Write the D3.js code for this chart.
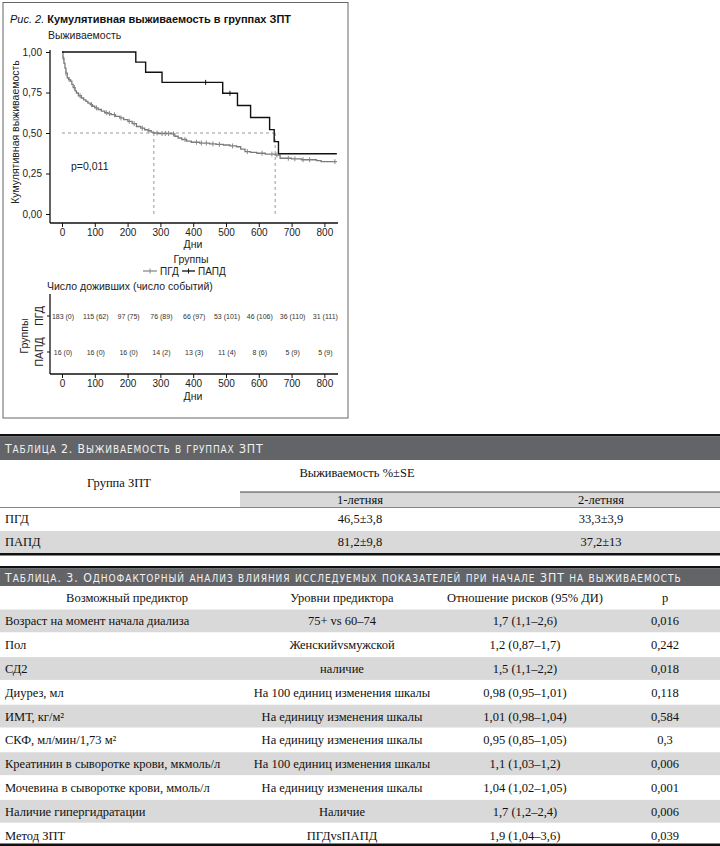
<!DOCTYPE html>
<html><head><meta charset="utf-8">
<script src="https://cdn.jsdelivr.net/npm/d3@7"></script>
<style>
body{margin:0;background:#fff;}
svg{display:block;}
</style></head>
<body>
<svg id="c" width="720" height="846"></svg>
<script>
// ---------------- DATA ----------------
const xTicks = [0,100,200,300,400,500,600,700,800];
const yTicks = [0,0.25,0.5,0.75,1];
// ПГД Kaplan-Meier steps (time in days, survival)
const pgdTimes = [0,3,6,9,12,16,20,26,30,34,40,44,50,59,66,73,79,86,93,100,110,120,130,140,150,163,176,188,201,214,227,240,252,262,272,280,293,333,344,354,365,380,394,420,450,470,492,512,532,545,558,575,594,620,650,665,700,730,776,790];
const pgdSurv  = [1.0,0.96,0.93,0.90,0.87,0.84,0.83,0.82,0.80,0.78,0.76,0.747,0.73,0.716,0.705,0.695,0.685,0.675,0.665,0.655,0.645,0.635,0.625,0.62,0.613,0.603,0.593,0.583,0.572,0.558,0.540,0.530,0.520,0.514,0.506,0.500,0.497,0.494,0.48,0.469,0.46,0.45,0.443,0.438,0.433,0.43,0.426,0.42,0.415,0.40,0.385,0.38,0.375,0.37,0.364,0.344,0.340,0.335,0.329,0.323];
const pgdCensor = [5,12,22,38,55,90,105,135,145,160,180,205,220,245,265,290,305,315,325,340,375,410,425,440,460,480,520,565,610,640,655,690,710,735,755,832];
// ПАПД steps
const papdTimes = [0,225,255,305,490,535,575,633,647,660];
const papdSurv  = [1.0,0.9375,0.875,0.8125,0.745,0.670,0.596,0.521,0.447,0.372];
const papdCensor = [438,512];
const endTime = 838;
const medians = [280,650];
// number at risk table
const pgdAtRisk  = [183,115,97,76,66,53,46,36,31];
const pgdEvents  = [0,62,75,89,97,101,106,110,111];
const papdAtRisk = [16,16,16,14,13,11,8,5,5];
const papdEvents = [0,0,0,2,3,4,6,9,9];
const pValue = "p=0,011";

// Table 2
const t2Title = "Таблица 2. Выживаемость в группах ЗПТ";
const t2Groups = ["ПГД","ПАПД"];
const t2Year1 = ["46,5±3,8","81,2±9,8"];
const t2Year2 = ["33,3±3,9","37,2±13"];

// Table 3
const t3Title = "Таблица. 3. Однофакторный анализ влияния исследуемых показателей при начале ЗПТ на выживаемость";
const t3Headers = ["Возможный предиктор","Уровни предиктора","Отношение рисков (95% ДИ)","p"];
const t3Predictors = ["Возраст на момент начала диализа","Пол","СД2","Диурез, мл","ИМТ, кг/м²","СКФ, мл/мин/1,73 м²","Креатинин в сыворотке крови, мкмоль/л","Мочевина в сыворотке крови, ммоль/л","Наличие гипергидратации","Метод ЗПТ"];
const t3Levels = ["75+ vs 60–74","Женскийvsмужской","наличие","На 100 единиц изменения шкалы","На единицу изменения шкалы","На единицу изменения шкалы","На 100 единиц изменения шкалы","На единицу изменения шкалы","Наличие","ПГДvsПАПД"];
const t3HR = ["1,7 (1,1–2,6)","1,2 (0,87–1,7)","1,5 (1,1–2,2)","0,98 (0,95–1,01)","1,01 (0,98–1,04)","0,95 (0,85–1,05)","1,1 (1,03–1,2)","1,04 (1,02–1,05)","1,7 (1,2–2,4)","1,9 (1,04–3,6)"];
const t3P = ["0,016","0,242","0,018","0,118","0,584","0,3","0,006","0,001","0,006","0,039"];

// ---------------- DRAW ----------------
const svg = d3.select("#c");
const SANS = "'Liberation Sans', Arial, sans-serif";
const SERIF = "'Liberation Serif', 'Times New Roman', serif";

// frame
svg.append("rect").attr("x",3).attr("y",2.5).attr("width",345).attr("height",415.5)
  .attr("fill","none").attr("stroke","#666").attr("stroke-width",1);

// title
const tt = svg.append("text").attr("x",10).attr("y",23).attr("font-family",SANS).attr("font-size",11).attr("fill","#111");
tt.append("tspan").attr("font-style","italic").text("Рис. 2.");
tt.append("tspan").attr("font-weight","bold").text(" Кумулятивная выживаемость в группах ЗПТ");

svg.append("text").attr("x",48).attr("y",39).attr("font-family",SANS).attr("font-size",10.5).attr("fill","#222").text("Выживаемость");

const x = d3.scaleLinear().domain([0,840]).range([62,337.5]);
const y = d3.scaleLinear().domain([0,1]).range([214,52]);

const g = svg.append("g");
g.append("line").attr("x1",50).attr("x2",50).attr("y1",50).attr("y2",223).attr("stroke","#111").attr("stroke-width",1.3);
g.append("line").attr("x1",50).attr("x2",338).attr("y1",223).attr("y2",223).attr("stroke","#111").attr("stroke-width",1.3);

const yAx = g.append("g").attr("transform","translate(50,0)")
  .call(d3.axisLeft(y).tickValues(yTicks).tickSize(4).tickFormat(d=>d3.format(".2f")(d).replace(".",",")));
yAx.select(".domain").remove();
yAx.selectAll("text").attr("font-family",SANS).attr("font-size",10).attr("fill","#222").attr("dx","-1");
yAx.selectAll("line").attr("stroke","#111");

const xAx = g.append("g").attr("transform","translate(0,223)")
  .call(d3.axisBottom(x).tickValues(xTicks).tickSize(4).tickFormat(d3.format("d")));
xAx.select(".domain").remove();
xAx.selectAll("text").attr("font-family",SANS).attr("font-size",10).attr("fill","#222").attr("dy","0.55em");
xAx.selectAll("line").attr("stroke","#111");

svg.append("text").attr("x",193).attr("y",248).attr("text-anchor","middle").attr("font-family",SANS).attr("font-size",10.5).attr("fill","#222").text("Дни");

svg.append("text").attr("transform","translate(19,132) rotate(-90)").attr("text-anchor","middle")
  .attr("font-family",SANS).attr("font-size",10.5).attr("fill","#222").text("Кумулятивная выживаемость");

// median dashed lines
g.append("line").attr("x1",x(0)).attr("x2",x(medians[1])).attr("y1",y(0.5)).attr("y2",y(0.5))
  .attr("stroke","#999").attr("stroke-width",1).attr("stroke-dasharray","3,3");
medians.forEach(m=>{
  g.append("line").attr("x1",x(m)).attr("x2",x(m)).attr("y1",y(0.5)).attr("y2",y(0))
   .attr("stroke","#999").attr("stroke-width",1).attr("stroke-dasharray","3,3");
});

function stepData(times, surv){
  const d = times.map((t,i)=>[t,surv[i]]);
  d.push([endTime, surv[surv.length-1]]);
  return d;
}
function survAt(times, surv, t){
  let s = surv[0];
  for(let i=0;i<times.length;i++){ if(times[i]<=t) s = surv[i]; }
  return s;
}
const line = d3.line().x(d=>x(d[0])).y(d=>y(d[1])).curve(d3.curveStepAfter);
g.append("path").datum(stepData(pgdTimes,pgdSurv)).attr("d",line).attr("fill","none").attr("stroke","#7b7b7b").attr("stroke-width",1.3);
g.append("path").datum(stepData(papdTimes,papdSurv)).attr("d",line).attr("fill","none").attr("stroke","#111").attr("stroke-width",1.4);
g.selectAll(".cg").data(pgdCensor).enter().append("line")
  .attr("x1",d=>x(d)).attr("x2",d=>x(d)).attr("y1",d=>y(survAt(pgdTimes,pgdSurv,d))-2.5).attr("y2",d=>y(survAt(pgdTimes,pgdSurv,d))+2.5)
  .attr("stroke","#8a8a8a").attr("stroke-width",1);
g.selectAll(".cb").data(papdCensor).enter().append("line")
  .attr("x1",d=>x(d)).attr("x2",d=>x(d)).attr("y1",d=>y(survAt(papdTimes,papdSurv,d))-2.5).attr("y2",d=>y(survAt(papdTimes,papdSurv,d))+2.5)
  .attr("stroke","#111").attr("stroke-width",1);

svg.append("text").attr("x",71).attr("y",170).attr("font-family",SANS).attr("font-size",10.5).attr("fill","#222").text(pValue);

// legend
svg.append("text").attr("x",191).attr("y",263).attr("text-anchor","middle").attr("font-family",SANS).attr("font-size",10.5).attr("fill","#222").text("Группы");
const lg = svg.append("g");
[[143,157,"#8a8a8a","ПГД",160],[182,195,"#111","ПАПД",198]].forEach(([a,b,c,t,tx])=>{
  lg.append("line").attr("x1",a).attr("x2",b).attr("y1",271).attr("y2",271).attr("stroke",c).attr("stroke-width",1.3);
  lg.append("line").attr("x1",(a+b)/2).attr("x2",(a+b)/2).attr("y1",268.5).attr("y2",273.5).attr("stroke",c).attr("stroke-width",1);
  lg.append("text").attr("x",tx).attr("y",275).attr("font-family",SANS).attr("font-size",10).attr("fill","#222").text(t);
});

// risk table
svg.append("text").attr("x",47).attr("y",290).attr("font-family",SANS).attr("font-size",10.5).attr("fill","#222").text("Число доживших (число событий)");
const rg = svg.append("g");
rg.append("line").attr("x1",50).attr("x2",50).attr("y1",294).attr("y2",374).attr("stroke","#111").attr("stroke-width",1.3);
rg.append("line").attr("x1",50).attr("x2",338).attr("y1",374).attr("y2",374).attr("stroke","#111").attr("stroke-width",1.3);
const rx = rg.append("g").attr("transform","translate(0,374)")
  .call(d3.axisBottom(x).tickValues(xTicks).tickSize(4).tickFormat(d3.format("d")));
rx.select(".domain").remove();
rx.selectAll("text").attr("font-family",SANS).attr("font-size",10).attr("fill","#222").attr("dy","0.55em");
rx.selectAll("line").attr("stroke","#111");
svg.append("text").attr("x",193).attr("y",400).attr("text-anchor","middle").attr("font-family",SANS).attr("font-size",10.5).attr("fill","#222").text("Дни");
const rowY = [316,352];
rowY.forEach(yy=>rg.append("line").attr("x1",47).attr("x2",50).attr("y1",yy).attr("y2",yy).attr("stroke","#111"));
svg.append("text").attr("transform","translate(28,336) rotate(-90)").attr("text-anchor","middle").attr("font-family",SANS).attr("font-size",10.5).attr("fill","#222").text("Группы");
svg.append("text").attr("transform","translate(43,316) rotate(-90)").attr("text-anchor","middle").attr("font-family",SANS).attr("font-size",10.5).attr("fill","#222").text("ПГД");
svg.append("text").attr("transform","translate(43,352) rotate(-90)").attr("text-anchor","middle").attr("font-family",SANS).attr("font-size",10.5).attr("fill","#222").text("ПАПД");
rg.selectAll(".r1").data(xTicks).enter().append("text")
  .attr("x",d=>x(d)+1).attr("y",rowY[0]+2.5).attr("text-anchor","middle").attr("font-family",SANS).attr("font-size",7).attr("fill","#333")
  .text((d,i)=>pgdAtRisk[i]+" ("+pgdEvents[i]+")");
rg.selectAll(".r2").data(xTicks).enter().append("text")
  .attr("x",d=>x(d)+1).attr("y",rowY[1]+2.5).attr("text-anchor","middle").attr("font-family",SANS).attr("font-size",7).attr("fill","#333")
  .text((d,i)=>papdAtRisk[i]+" ("+papdEvents[i]+")");

// ---------------- TABLES ----------------
const HEAD = "#636467", SHADE = "#d9d9d9", TXT = "#111";
function titleBar(top, h, text, len){
  svg.append("rect").attr("x",0).attr("y",top).attr("width",720).attr("height",2.5).attr("fill","#111");
  svg.append("rect").attr("x",0).attr("y",top+2.5).attr("width",720).attr("height",h).attr("fill",HEAD);
  const t = svg.append("text").attr("x",5).attr("y",top+2.5+h/2+4.3)
    .attr("font-family","'DejaVu Sans Condensed','DejaVu Sans',sans-serif")
    .attr("fill","#f2f2f2").attr("letter-spacing","0.4")
    .attr("textLength",len).attr("lengthAdjust","spacing");
  // manual small caps: original capitals & digits large, lowercase as smaller capitals
  let runs = [];
  for(const ch of text){
    const small = ch !== ch.toUpperCase();
    if(runs.length && runs[runs.length-1].small===small) runs[runs.length-1].s += ch;
    else runs.push({small, s:ch});
  }
  runs.forEach(r=>t.append("tspan").attr("font-size", r.small?10:12.2).text(r.s.toUpperCase()));
}
function cell(xx, yy, txt, anchor){
  svg.append("text").attr("x",xx).attr("y",yy+4.3).attr("text-anchor",anchor||"middle")
    .attr("font-family",SERIF).attr("font-size",12.5).attr("fill",TXT).text(txt);
}

titleBar(434, 23.5, t2Title, 258);
cell(357,473,"Выживаемость %±SE");
cell(119,483,"Группа ЗПТ");
svg.append("rect").attr("x",240).attr("y",492).attr("width",480).attr("height",15).attr("fill",SHADE);
svg.append("line").attr("x1",240).attr("x2",720).attr("y1",492).attr("y2",492).attr("stroke","#444").attr("stroke-width",1);
svg.append("line").attr("x1",0).attr("x2",720).attr("y1",507.5).attr("y2",507.5).attr("stroke","#666").attr("stroke-width",0.8);
cell(360,500,"1-летняя");
cell(601,500,"2-летняя");
t2Groups.forEach((gname,i)=>{
  const top = 508 + i*23;
  if(i===1) svg.append("rect").attr("x",0).attr("y",top).attr("width",720).attr("height",22.5).attr("fill",SHADE);
  cell(5, top+11, gname, "start");
  cell(360, top+11, t2Year1[i]);
  cell(601, top+11, t2Year2[i]);
});
svg.append("rect").attr("x",0).attr("y",553).attr("width",720).attr("height",2.5).attr("fill","#111");

titleBar(566, 17.5, t3Title, 676);
const colX = [5,342,525,665];
t3Headers.forEach((h,i)=>cell(i===0?127:colX[i], 598, h));
t3Predictors.forEach((p,i)=>{
  const top = 609.5 + i*23.8;
  if(i%2===0) svg.append("rect").attr("x",0).attr("y",top).attr("width",720).attr("height",22.8).attr("fill",SHADE);
  const cy = top+11.5;
  cell(colX[0], cy, p, "start");
  cell(colX[1], cy, t3Levels[i]);
  cell(colX[2], cy, t3HR[i]);
  cell(colX[3], cy, t3P[i]);
});
svg.append("rect").attr("x",0).attr("y",843.5).attr("width",720).attr("height",2.5).attr("fill","#111");
</script>
</body></html>
